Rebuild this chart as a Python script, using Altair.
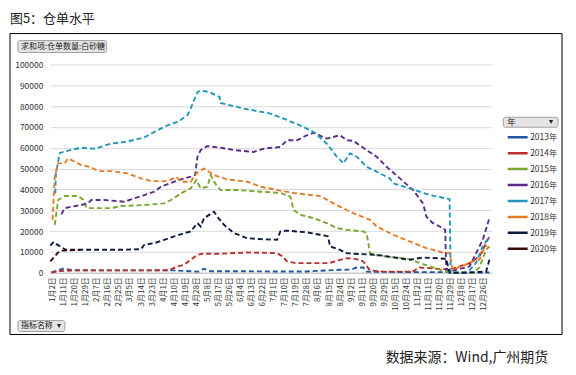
import altair as alt
import pandas as pd

YEARS = ["2013", "2014", "2015", "2016", "2017", "2018", "2019", "2020"]
COLORS = ["#2157a3", "#b8312f", "#7aa632", "#5a2d8c", "#2196b8", "#e67c27", "#0d1b3e", "#3b0a0a"]

X_LABELS = ["1月2日", "1月11日", "1月20日", "1月29日", "2月7日", "2月16日", "2月25日", "3月5日",
            "3月14日", "3月23日", "4月1日", "4月10日", "4月19日", "4月28日", "5月8日", "5月17日",
            "5月26日", "6月4日", "6月13日", "6月22日", "7月1日", "7月10日", "7月19日", "7月28日",
            "8月6日", "8月15日", "8月24日", "9月2日", "9月11日", "9月20日", "9月29日", "10月15日",
            "10月24日", "11月2日", "11月11日", "11月20日", "11月29日", "12月8日", "12月17日", "12月26日"]

Y_TICKS = [0, 10000, 20000, 30000, 40000, 50000, 60000, 70000, 80000, 90000, 100000]

# positions are in units of x-axis label slots
X_2013 = [-0.1, 0.5, 0.9, 2.0, 5, 8, 11, 12.5, 13.2, 13.7, 14.3, 17, 20, 23, 26, 27.0, 27.5, 28.1, 28.4, 30, 33, 35.9, 36.5, 38, 39.5]
Y_2013 = [300, 1000, 1900, 1200, 1100, 1100, 1100, 700, 500, 1900, 700, 700, 600, 600, 1400, 1500, 2500, 2500, 500, 400, 300, 300, 0, 0, 100]

X_2014 = [-0.1, 0.5, 2, 5, 8, 10.5, 11.3, 11.9, 12.5, 13.1, 13.5, 15, 17.6, 20.3, 20.8, 21.2, 22, 25, 26.0, 26.6, 27.5, 28.1, 28.7, 30, 32.5, 33.2, 35.3, 36.2, 37.7, 38.6, 39.5]
Y_2014 = [0, 800, 1100, 1100, 1100, 1200, 3000, 3800, 6200, 8600, 9100, 9100, 9700, 9400, 7800, 5400, 4600, 4600, 6200, 7000, 6500, 5400, 1100, 500, 500, 2500, 1700, 2000, 4600, 7800, 17400]

X_2015 = [0.2, 0.5, 1.1, 2.3, 2.8, 3.1, 3.8, 5.3, 6.2, 8.3, 10.1, 10.7, 11.6, 12.5, 13.0, 13.4, 14.0, 14.3, 14.8, 15.2, 16.7, 18.8, 20.6, 21.5, 21.8, 22.4, 23.6, 24.8, 25.7, 26.6, 28.1, 28.4, 28.7, 29.3, 32.3, 34.1, 35.3, 36.0, 38.0, 38.6, 39.2, 39.5]
Y_2015 = [23000, 34900, 36800, 36800, 35000, 31000, 31000, 31000, 32000, 32500, 33300, 34900, 38100, 40500, 44500, 40500, 41300, 46900, 42000, 39700, 39700, 38900, 38300, 36500, 30100, 27800, 26200, 23800, 21400, 20600, 19800, 19000, 9400, 8300, 6500, 3000, 1000, 0, 0, 2500, 11000, 12600]

X_2016 = [0.8, 1.1, 1.7, 2.6, 3.2, 3.5, 4.7, 6.5, 7.4, 8.3, 9.2, 9.8, 11.0, 11.9, 12.5, 12.9, 13.1, 13.4, 14.0, 15.2, 16.4, 18.2, 19.1, 20.6, 21.2, 22.1, 23.0, 23.6, 24.8, 26.0, 26.6, 27.2, 28.4, 29.3, 30.2, 31.4, 32.6, 33.5, 33.8, 34.4, 35.0, 35.5, 35.6, 36.2, 37.7, 38.3, 38.9, 39.5]
Y_2016 = [28000, 31000, 31700, 32500, 33300, 34900, 34900, 34100, 35700, 37300, 38900, 41300, 43700, 45300, 46100, 47000, 55700, 58900, 60800, 60000, 58900, 58000, 59600, 60400, 63600, 63600, 66000, 67200, 64400, 66000, 63600, 63300, 58900, 55700, 50900, 45300, 39700, 33300, 26900, 23800, 22200, 20600, 1400, 1000, 3000, 9400, 15800, 26200]

X_2017 = [0.25, 0.3, 0.66, 1.7, 2.6, 3.8, 5.3, 6.8, 8.3, 9.5, 10.4, 11.3, 12.2, 12.5, 13.1, 13.4, 14.2, 15.1, 15.2, 17.3, 19.7, 20.9, 22.7, 23.6, 24.8, 25.7, 26.3, 26.9, 27.5, 28.4, 29.3, 30.5, 30.8, 32.3, 34.1, 35.9, 36.0, 37.5, 38.3, 38.9, 39.5]
Y_2017 = [38000, 47600, 57500, 59000, 60000, 59500, 62000, 63000, 65000, 68400, 70800, 72400, 75600, 79000, 86700, 87500, 86700, 84400, 81500, 78800, 76400, 74000, 70000, 67600, 62000, 55700, 52500, 57300, 55700, 50900, 48500, 45300, 42900, 40500, 37300, 35300, 0, 0, 4800, 12600, 17400]

X_2018 = [0, 0.2, 0.5, 1.1, 1.4, 1.9, 2.6, 3.5, 4.1, 5.3, 6.8, 8.0, 8.9, 10.4, 11.2, 11.6, 12.5, 13.0, 13.7, 14.6, 15.8, 17.6, 18.8, 20.6, 21.8, 23.3, 24.2, 25.4, 26.6, 27.2, 28.7, 29.3, 30.8, 32.3, 33.8, 35.3, 35.9, 36.2, 36.7, 37.7, 38.3, 38.6, 39.1, 39.3]
Y_2018 = [25400, 46000, 52500, 52500, 54900, 53600, 51700, 50600, 48800, 48800, 47700, 45300, 44000, 44000, 46000, 43700, 43700, 47700, 50000, 46900, 44800, 43700, 41300, 39400, 38300, 37300, 36800, 33300, 30100, 28600, 25400, 22200, 18200, 15000, 11800, 9700, 9400, 1400, 2500, 4600, 6200, 6200, 12600, 13000]

X_2019 = [-0.2, 0.1, 0.4, 0.7, 1.2, 3, 6, 8, 8.3, 9.2, 10.1, 11.0, 11.9, 12.5, 13.1, 13.4, 13.7, 14.6, 14.9, 15.5, 16.4, 17.6, 18.8, 20.3, 20.6, 21.2, 23.0, 24.2, 24.9, 25.1, 26.0, 26.6, 27.2, 29.3, 32.3, 33.5, 35.6, 35.9, 37, 39.2, 39.5]
Y_2019 = [13000, 14800, 13600, 12600, 11000, 11000, 11000, 11300, 13400, 14200, 15800, 17400, 19000, 19800, 23800, 22200, 26200, 29300, 26900, 23000, 19000, 16600, 16100, 15800, 19800, 20200, 19400, 18200, 17500, 12600, 11000, 9400, 9100, 8600, 6200, 7300, 6700, 0, 0, 500, 6200]

X_2020 = [-0.2, 0.2, 0.5, 0.9, 1.5, 2.5]
Y_2020 = [5400, 7800, 9700, 10600, 10800, 10900]

SERIES = {
    "2013": (X_2013, Y_2013), "2014": (X_2014, Y_2014), "2015": (X_2015, Y_2015),
    "2016": (X_2016, Y_2016), "2017": (X_2017, Y_2017), "2018": (X_2018, Y_2018),
    "2019": (X_2019, Y_2019), "2020": (X_2020, Y_2020),
}

rows = []
for yr in YEARS:
    xs, ys = SERIES[yr]
    for k, (p, v) in enumerate(zip(xs, ys)):
        rows.append({"year": yr, "pos": p, "value": v, "k": k})
df = pd.DataFrame(rows)

FONT = "Noto Sans CJK SC"
W, H = 443, 209

label_expr = "[" + ",".join("'" + s + "'" for s in X_LABELS) + "][datum.value]"

lines = alt.Chart(df).mark_line(strokeDash=[5, 3], strokeWidth=1.9).encode(
    x=alt.X("pos:Q",
            scale=alt.Scale(domain=[-0.243, 39.67], nice=False, zero=False),
            axis=alt.Axis(values=list(range(len(X_LABELS))), labelExpr=label_expr,
                          labelAngle=-90, labelFontSize=8, labelColor="#333", labelFont=FONT,
                          labelPadding=4, ticks=False, grid=False, domain=True,
                          domainColor="#bfbfbf", title=None, labelOverlap=False)),
    y=alt.Y("value:Q",
            scale=alt.Scale(domain=[0, 100000], nice=False),
            axis=alt.Axis(values=Y_TICKS, format="d", labelFontSize=8.5, labelColor="#333",
                          labelFont=FONT, labelPadding=7, ticks=False, domain=False,
                          gridColor="#d9d9d9", title=None)),
    color=alt.Color("year:N", scale=alt.Scale(domain=YEARS, range=COLORS),
                    legend=alt.Legend(orient="none", legendX=458, legendY=65, title=None,
                                      symbolType="stroke", symbolSize=400, symbolStrokeWidth=2.5,
                                      symbolDash=[1, 0], labelFontSize=8.5, labelFont=FONT,
                                      labelColor="#333", labelExpr="datum.label + '年'",
                                      rowPadding=0, clipHeight=16, labelOffset=1)),
    order="k:Q",
)

one = pd.DataFrame({"a": [0]})

frame = alt.Chart(one).mark_rect(fill="transparent", stroke="#000", strokeWidth=1).encode(
    x=alt.value(-40), x2=alt.value(514), y=alt.value(-31), y2=alt.value(271))

def button(x0, x1, y0, y1):
    return alt.Chart(one).mark_rect(fill="#e4e4e4", stroke="#8c8c8c", strokeWidth=0.8,
                                    cornerRadius=2).encode(
        x=alt.value(x0), x2=alt.value(x1), y=alt.value(y0), y2=alt.value(y1))

def label(txt, x, y, size, align="left", color="#222"):
    return alt.Chart(one).mark_text(text=txt, font=FONT, fontSize=size, align=align,
                                    baseline="middle", color=color).encode(
        x=alt.value(x), y=alt.value(y))

layers = [
    frame,
    lines,
    button(-32, 57, -24, -12), label("求和项:仓单数量:白砂糖", -29, -18, 8),
    button(455, 510, 53, 63), label("年", 459, 58, 8.5), label("▾", 505, 58, 8, "right"),
    button(-32, 15, 257, 268), label("指标名称", -29, 262.5, 8), label("▾", 11, 262.5, 8, "right"),
    label("图5：仓单水平", -40, -46, 13),
    label("数据来源：Wind,广州期货", 337, 295, 14),
]

chart = alt.layer(*layers).properties(
    width=W, height=H,
    padding={"left": 42, "top": 56, "right": 77, "bottom": 99},
    autosize=alt.AutoSizeParams(type="none"),
    background="white",
).configure_view(stroke=None)

chart.save("out.html", embed_options={"renderer": "svg", "actions": False})
